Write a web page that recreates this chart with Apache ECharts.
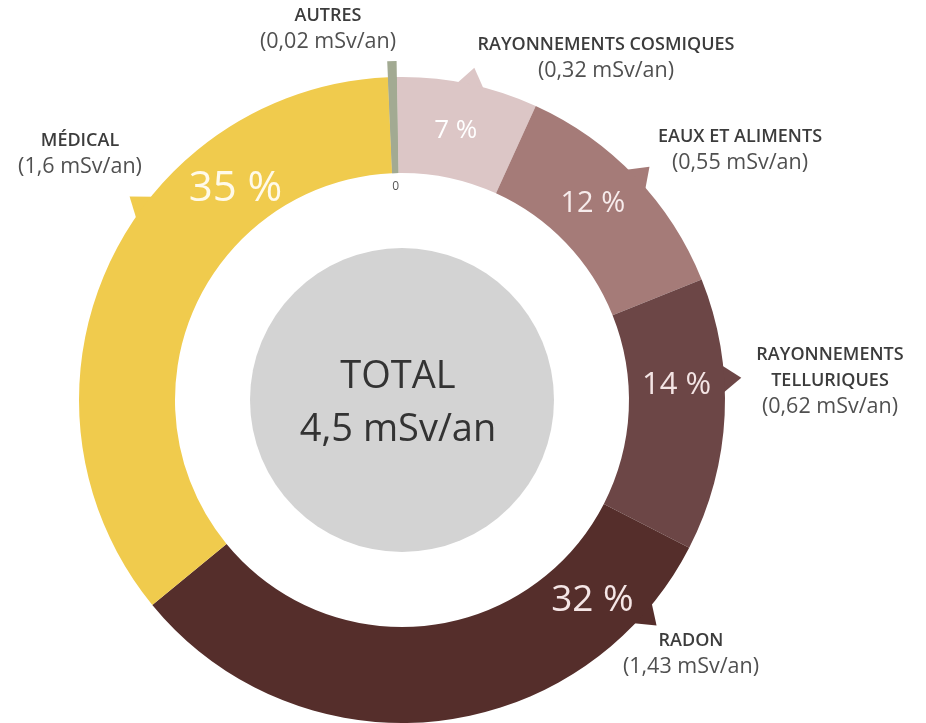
<!DOCTYPE html>
<html>
<head>
<meta charset="utf-8">
<script src="https://cdn.jsdelivr.net/npm/echarts@6/dist/echarts.min.js"></script>
<style>
  html, body { margin: 0; padding: 0; background: #ffffff; }
  #chart { width: 926px; height: 723px; }
</style>
</head>
<body>
<div id="chart"></div>
<script>
// Exposition moyenne aux rayonnements ionisants, par source (mSv/an)
const categories = ['AUTRES', 'RAYONNEMENTS COSMIQUES', 'EAUX ET ALIMENTS', 'RAYONNEMENTS TELLURIQUES', 'RADON', 'MÉDICAL'];
const doses = [0.02, 0.32, 0.55, 0.62, 1.43, 1.6];
const doseTexts = ['0,02', '0,32', '0,55', '0,62', '1,43', '1,6'];
const shares = [0, 7, 12, 14, 32, 35];
const totalTitle = 'TOTAL';
const totalText = '4,5 mSv/an';

const colors = ['#a2aa92', '#dcc6c6', '#a57b78', '#6c4646', '#552e2b', '#f0cb4d'];
const FONT = '"Open Sans", "Noto Sans", sans-serif';
const CENTER = [402, 400];
const R_OUT = 323, R_IN = 227, R_HUB = 152;
const START = 92.5;

const sum = doses.reduce((a, b) => a + b, 0);

// placement of the share inside each sector: fraction of its sweep, font size, colour, nudge
const shareStyle = [
  { f: 0.5,   size: 12, color: '#555555', inner: true, dy: 0 },
  { f: 0.48,  size: 26, color: '#ffffff', dy: 0 },
  { f: 0.447, size: 29, color: '#f7ecec', dy: 2 },
  { f: 0.375, size: 31, color: '#f3e4e4', dy: 2 },
  { f: 0.167, size: 37, color: '#f5e6e6', dy: 2 },
  { f: 0.726, size: 42, color: '#fffaea', dy: 8 }
];
// pointer position along each sector (fraction of sweep)
const pointerAt = [null, 0.52, 0.51, 0.37, 0.126, 0.60];
// caption anchors (centre x, top y)
const captionAt = [
  { x: 328, y: 3 },
  { x: 606, y: 32 },
  { x: 740, y: 124 },
  { x: 830, y: 342, wrap: true },
  { x: 691, y: 628 },
  { x: 80,  y: 128 }
];

const chart = echarts.init(document.getElementById('chart'), null, { renderer: 'canvas' });

function sectorLayout(i) {
  return chart.getModel().getSeriesByIndex(0).getData().getItemLayout(i);
}

const option = {
  animation: false,
  backgroundColor: '#ffffff',
  series: [
    {
      type: 'pie',
      center: CENTER,
      radius: [R_IN, R_OUT],
      startAngle: START,
      clockwise: true,
      silent: true,
      label: {
        show: true,
        position: 'inside',
        fontFamily: FONT,
        formatter: p => p.dataIndex === 0 ? String(shares[0]) : shares[p.dataIndex] + ' %'
      },
      labelLine: { show: false },
      labelLayout: function (p) {
        const l = sectorLayout(p.dataIndex);
        const s = shareStyle[p.dataIndex];
        const a = l.startAngle + s.f * (l.endAngle - l.startAngle);
        const r = s.inner ? l.r0 - 13 : (l.r0 + l.r) / 2;
        return {
          x: l.cx + r * Math.cos(a),
          y: l.cy + r * Math.sin(a) + s.dy,
          align: 'center',
          verticalAlign: 'middle'
        };
      },
      data: doses.map((v, i) => ({
        value: v,
        name: categories[i],
        itemStyle: { color: colors[i] },
        label: { fontSize: shareStyle[i].size, color: shareStyle[i].color }
      }))
    },
    {
      // thin "autres" sector standing out of the ring, and the captions
      type: 'pie',
      center: CENTER,
      radius: [R_IN, R_OUT + 16],
      startAngle: START,
      clockwise: true,
      silent: true,
      z: 3,
      label: {
        show: true,
        position: 'outside',
        width: 300,
        overflow: 'none',
        fontFamily: FONT,
        formatter: p => {
          const name = captionAt[p.dataIndex].wrap ? p.name.replace(' ', '\n') : p.name;
          return name.split('\n').map(t => '{n|' + t + '}').join('\n') +
            '\n{v|(' + doseTexts[p.dataIndex] + ' mSv/an)}';
        },
        rich: {
          n: { fontFamily: FONT, fontSize: 18, fontWeight: 600, color: '#3c3c3c', lineHeight: 26, align: 'center' },
          v: { fontFamily: FONT, fontSize: 21.5, color: '#505050', lineHeight: 26, align: 'center' }
        }
      },
      labelLine: { show: false },
      labelLayout: function (p) {
        const c = captionAt[p.dataIndex];
        return { x: c.x, y: c.y, align: 'center', verticalAlign: 'top' };
      },
      data: doses.map((v, i) => ({
        value: v,
        name: categories[i],
        itemStyle: { color: i === 0 ? colors[0] : 'rgba(0,0,0,0)' }
      }))
    },
    {
      // central disc with the total
      type: 'pie',
      center: CENTER,
      radius: [0, R_HUB],
      silent: true,
      label: {
        show: true,
        position: 'center',
        offset: [-4, 4],
        fontFamily: FONT,
        formatter: '{t|' + totalTitle + '}\n{t|' + totalText + '}',
        rich: {
          t: { fontFamily: FONT, fontSize: 38, color: '#333333', lineHeight: 53 }
        }
      },
      labelLine: { show: false },
      data: [{ value: sum, name: totalTitle, itemStyle: { color: '#d3d3d3' } }]
    }
  ]
};

chart.setOption(option);

// small pointers on the outer edge, placed from the computed sectors
const pointers = [];
pointerAt.forEach((f, i) => {
  if (f == null) return;
  const l = sectorLayout(i);
  const a = l.startAngle + f * (l.endAngle - l.startAngle);
  const half = 15 / l.r;
  const base = l.r - 3, tip = l.r + 17;
  const pt = (ang, r) => [l.cx + r * Math.cos(ang), l.cy + r * Math.sin(ang)];
  pointers.push({
    type: 'polygon',
    silent: true,
    z: 1,
    shape: { points: [pt(a - half, base), pt(a, tip), pt(a + half, base)] },
    style: { fill: colors[i] }
  });
});
chart.setOption({ graphic: pointers });
</script>
</body>
</html>
